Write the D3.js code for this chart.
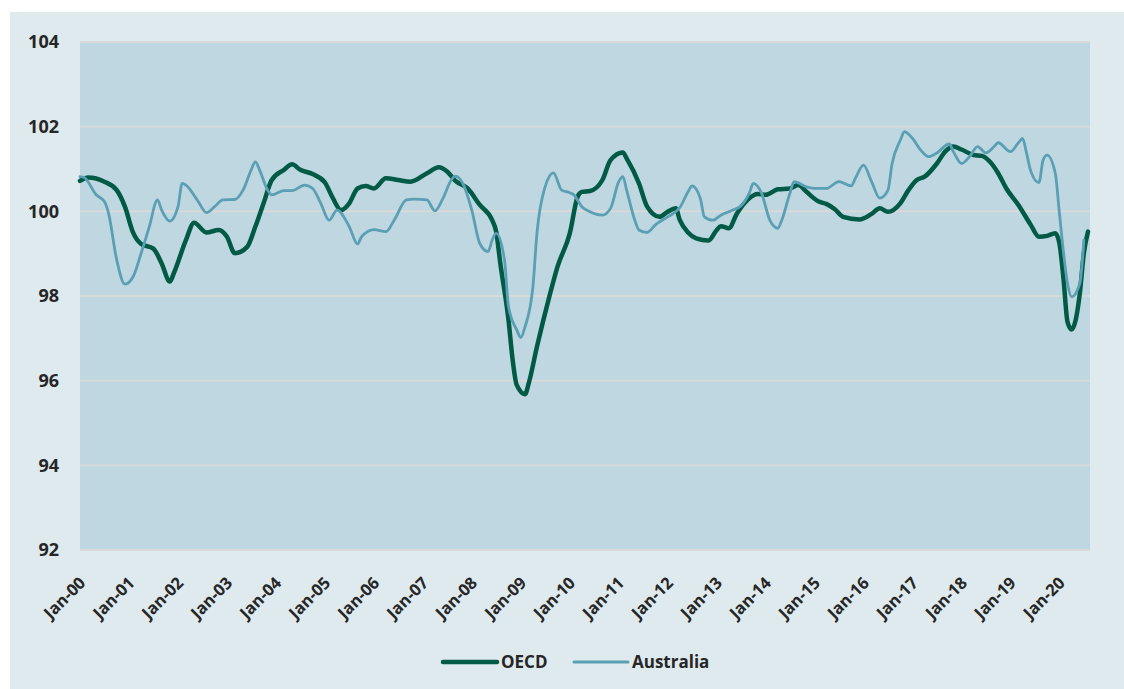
<!DOCTYPE html>
<html>
<head>
<meta charset="utf-8">
<script src="https://cdn.jsdelivr.net/npm/d3@7"></script>
<style>
  body { margin: 0; background: #ffffff; }
  svg text { font-family: "Open Sans", "Noto Sans", sans-serif; font-weight: 700; fill: #262626; }
</style>
</head>
<body>
<div class="chart"></div>
<script>
// series (month, index value)
var oecdMonths = ["2000-01","2000-03","2000-07","2000-10","2000-12","2001-02","2001-04","2001-07","2001-09","2001-11","2001-12",
  "2002-03","2002-05","2002-08","2002-11","2003-01","2003-03","2003-06","2003-08","2003-10","2003-12",
  "2004-03","2004-05","2004-07","2004-10","2005-01","2005-03","2005-05","2005-07","2005-09","2005-11",
  "2006-01","2006-04","2006-07","2006-10","2007-02","2007-05","2007-07","2007-09","2007-12",
  "2008-03","2008-06","2008-07","2008-08","2008-10","2008-11","2008-12","2009-02","2009-03","2009-05","2009-08","2009-10",
  "2010-01","2010-03","2010-04","2010-06","2010-09","2010-11","2011-02","2011-03","2011-06","2011-08","2011-11",
  "2012-01","2012-03","2012-04","2012-06","2012-08","2012-11","2013-01","2013-02","2013-04","2013-06","2013-09","2013-11",
  "2014-01","2014-04","2014-07","2014-09","2014-11","2015-02","2015-04","2015-06","2015-08","2015-12",
  "2016-03","2016-05","2016-07","2016-10","2016-12","2017-02","2017-04","2017-07","2017-09","2017-11",
  "2018-01","2018-04","2018-06","2018-08","2018-10","2018-12","2019-03","2019-06","2019-08","2019-10","2019-12",
  "2020-01","2020-02","2020-03","2020-04","2020-06","2020-07","2020-08"]
var oecdValues = [100.72,100.80,100.70,100.50,100.11,99.49,99.23,99.12,98.77,98.34,98.54,
  99.32,99.73,99.50,99.56,99.40,99.01,99.16,99.64,100.19,100.74,
  100.98,101.11,100.98,100.88,100.68,100.31,100.03,100.19,100.54,100.60,
  100.54,100.78,100.74,100.70,100.90,101.04,100.94,100.72,100.54,
  100.15,99.79,99.52,98.77,97.43,96.49,95.90,95.68,95.94,96.80,97.98,98.69,
  99.48,100.35,100.46,100.48,100.74,101.21,101.39,101.25,100.66,100.11,99.87,
  99.99,100.07,99.79,99.50,99.36,99.31,99.56,99.65,99.60,99.95,100.31,100.41,
  100.39,100.52,100.54,100.62,100.46,100.23,100.17,100.05,99.87,99.81,
  99.94,100.07,99.99,100.19,100.50,100.74,100.82,101.13,101.41,101.53,
  101.46,101.33,101.31,101.17,100.90,100.54,100.15,99.68,99.40,99.42,99.48,
  99.24,98.38,97.39,97.21,98.06,99.01,99.52]

var ausMonths = ["2000-01","2000-02","2000-05","2000-07","2000-08","2000-10","2000-12","2001-02","2001-04","2001-06","2001-08","2001-09","2001-11",
  "2002-01","2002-02","2002-03","2002-06","2002-08","2002-10","2002-12","2003-03","2003-05","2003-07","2003-08","2003-09","2003-11","2003-12",
  "2004-03","2004-05","2004-08","2004-10","2004-12","2005-02","2005-04","2005-07","2005-09","2005-10",
  "2006-01","2006-04","2006-06","2006-09","2006-11","2007-02","2007-04","2007-06","2007-08","2007-09","2007-11",
  "2008-01","2008-03","2008-05","2008-06","2008-07","2008-09","2008-10","2008-12","2009-01","2009-02","2009-04","2009-05","2009-07","2009-09","2009-11",
  "2010-01","2010-02","2010-04","2010-06","2010-09","2010-11","2011-01","2011-02","2011-03","2011-05","2011-06","2011-08","2011-10",
  "2012-01","2012-04","2012-06","2012-07","2012-09","2012-10","2012-12","2013-02","2013-05","2013-07","2013-09","2013-10","2013-12",
  "2014-02","2014-04","2014-05","2014-07","2014-08","2014-11","2015-01","2015-04","2015-06","2015-07","2015-10","2015-11",
  "2016-01","2016-03","2016-05","2016-07","2016-08","2016-10","2016-11","2017-01","2017-03","2017-05","2017-07","2017-10","2017-11",
  "2018-01","2018-03","2018-05","2018-07","2018-09","2018-10","2019-01","2019-03","2019-04","2019-05","2019-06","2019-08","2019-09","2019-10","2019-12",
  "2020-01","2020-02","2020-03","2020-04","2020-06","2020-07"]
var ausValues = [100.82,100.80,100.39,100.23,99.95,98.85,98.28,98.46,99.01,99.64,100.27,100.03,99.77,
  100.11,100.66,100.62,100.23,99.97,100.11,100.27,100.28,100.50,100.98,101.17,100.98,100.50,100.39,
  100.49,100.49,100.62,100.54,100.19,99.79,100.03,99.64,99.23,99.40,
  99.57,99.52,99.79,100.27,100.29,100.27,100.01,100.31,100.74,100.83,100.62,
  100.03,99.24,99.05,99.32,99.48,98.85,97.75,97.20,97.02,97.27,98.22,99.48,100.58,100.91,100.50,
  100.44,100.39,100.11,99.99,99.91,100.07,100.70,100.82,100.50,99.79,99.56,99.50,99.68,
  99.87,100.09,100.46,100.60,100.30,99.87,99.79,99.91,100.03,100.13,100.43,100.66,100.43,
  99.79,99.60,99.79,100.43,100.70,100.58,100.54,100.54,100.66,100.70,100.60,100.78,
  101.09,100.70,100.31,100.50,101.13,101.68,101.88,101.72,101.45,101.29,101.38,101.59,101.41,
  101.13,101.29,101.53,101.38,101.53,101.62,101.41,101.62,101.72,101.37,100.95,100.68,101.21,101.33,100.90,
  99.95,99.01,98.30,97.98,98.30,99.32]

var seriesNames = ["OECD", "Australia"]
var seriesColors = ["#005a45", "#5a9fb4"]
var yTicks = [92, 94, 96, 98, 100, 102, 104]
var xTickLabels = ["Jan-00","Jan-01","Jan-02","Jan-03","Jan-04","Jan-05","Jan-06","Jan-07","Jan-08","Jan-09","Jan-10",
  "Jan-11","Jan-12","Jan-13","Jan-14","Jan-15","Jan-16","Jan-17","Jan-18","Jan-19","Jan-20"]

var width = 1124,
  height = 689,
  plotLeft = 80, plotRight = 1090, plotTop = 42, plotBottom = 550

var parseMonth = d3.timeParse("%Y-%m"),
  parseTick = d3.timeParse("%b-%y")

var svg = d3.select(".chart").append("svg")
  .attr("width", width)
  .attr("height", height)

// outer panel and plot area
svg.append("rect").attr("x", 10).attr("y", 12).attr("width", width - 10).attr("height", height - 12).attr("fill", "#deeaee")
svg.append("rect").attr("x", plotLeft).attr("y", plotTop).attr("width", plotRight - plotLeft).attr("height", plotBottom - plotTop).attr("fill", "#bfd7e0")

var x = d3.scaleTime()
  .domain([parseMonth("2000-01"), parseMonth("2020-08")])
  .range([plotLeft, 1088])
var y = d3.scaleLinear()
  .domain([92, 104])
  .range([plotBottom, plotTop])

// gridlines
svg.append("g")
  .selectAll("line")
  .data(yTicks)
  .join("line")
  .attr("x1", plotLeft).attr("x2", plotRight)
  .attr("y1", d => y(d)).attr("y2", d => y(d))
  .attr("stroke", "#d9d9d9")
  .attr("stroke-width", 2)

var yAxis = svg.append("g")
  .attr("transform", `translate(${plotLeft},0)`)
  .call(d3.axisLeft(y).tickValues(yTicks).tickSize(0).tickPadding(21))
yAxis.select(".domain").remove()
yAxis.selectAll("text").attr("font-size", 18).attr("font-family", null).attr("fill", "#262626")

var xAxis = svg.append("g")
  .attr("transform", `translate(0,${plotBottom})`)
  .call(d3.axisBottom(x).tickValues(xTickLabels.map(parseTick)).tickFormat(d3.timeFormat("%b-%y")).tickSize(0))
xAxis.select(".domain").remove()
xAxis.selectAll("text")
  .attr("font-size", 16.5)
  .attr("font-family", null)
  .attr("fill", "#262626")
  .attr("text-anchor", "end")
  .attr("y", 0).attr("dy", 0)
  .attr("transform", "translate(6,34) rotate(-45)")

function toPoints(months, values) {
  return months.map((m, i) => ({ date: parseMonth(m), value: values[i] }))
}

var line = d3.line()
  .x(d => x(d.date))
  .y(d => y(d.value))
  .curve(d3.curveMonotoneX)

var series = [toPoints(oecdMonths, oecdValues), toPoints(ausMonths, ausValues)]
var widths = [4.5, 2.8]

svg.append("g")
  .selectAll("path")
  .data(series)
  .join("path")
  .attr("d", line)
  .attr("fill", "none")
  .attr("stroke", (d, i) => seriesColors[i])
  .attr("stroke-width", (d, i) => widths[i])
  .attr("stroke-linejoin", "round")
  .attr("stroke-linecap", "round")

// legend
var legendX = [443, 574]
var legend = svg.append("g")
  .selectAll("g")
  .data(seriesNames)
  .join("g")
  .attr("transform", (d, i) => `translate(${legendX[i]},662)`)
legend.append("line")
  .attr("x1", 0).attr("x2", 54)
  .attr("stroke", (d, i) => seriesColors[i])
  .attr("stroke-width", (d, i) => i == 0 ? 4.5 : 3)
  .attr("stroke-linecap", "round")
legend.append("text")
  .attr("x", 58).attr("y", 6)
  .attr("font-size", 17)
  .text(d => d)
</script>
</body>
</html>
